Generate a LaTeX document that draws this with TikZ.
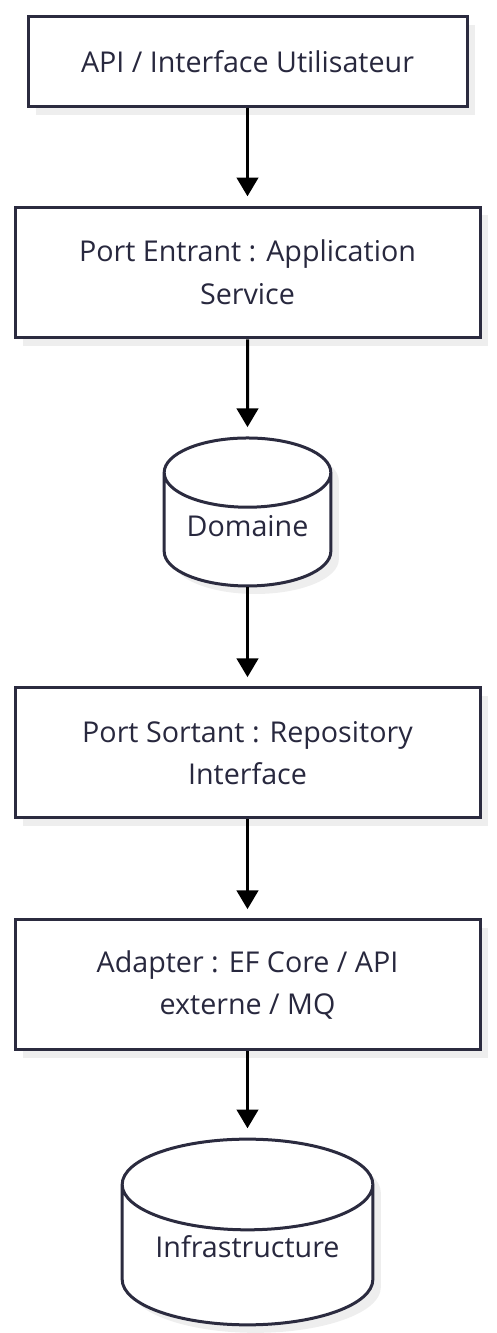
\documentclass[tikz,border=0pt]{standalone}
\usepackage{fontspec}
\setmainfont{Open Sans}
\usetikzlibrary{shapes.geometric,shadows,arrows.meta}
\definecolor{layerStroke}{RGB}{43,43,63}
\definecolor{layerText}{RGB}{40,40,62}
\definecolor{layerShadow}{RGB}{238,238,238}

\begin{document}
\begin{tikzpicture}[
  x=0.75pt,
  y=0.75pt,
  layer/.style={draw=layerStroke, line width=2.25pt, fill=white,
    drop shadow={shadow xshift=6pt, shadow yshift=-6pt, fill=layerShadow, opacity=1},
    font=\fontsize{21.5}{32}\selectfont, text=layerText, align=center},
  box/.style={layer, rectangle, minimum width=#1*0.75pt},
  store/.style={layer, cylinder, shape border rotate=90, anchor=shape center},
  flow/.style={line width=2.25pt, -{Triangle[width=16pt, length=14pt]}, shorten >=7pt}
]
  \useasboundingbox (0,0) rectangle (496,1333);

  \node[box=439, minimum height=67.5pt] (api) at (247.5,1271) {API / Interface Utilisateur};
  \node[box=465, minimum height=98pt] (entrant) at (247.5,1060.5) {Port Entrant : Application\\Service};
  \node[store, aspect=0.53, minimum width=125pt, minimum height=111pt, text depth=15pt] (domaine) at (247.5,821) {Domaine};
  \node[box=465, minimum height=97.5pt] (sortant) at (247.5,580) {Port Sortant : Repository\\Interface};
  \node[box=465, minimum height=97.5pt] (adapter) at (247.5,348) {Adapter : EF Core / API\\externe / MQ};
  \node[store, aspect=0.47, minimum width=188pt, minimum height=124pt, text depth=22pt] (infra) at (247.5,101) {Infrastructure};

  \foreach \a/\b in {api/entrant,entrant/domaine,domaine/sortant,sortant/adapter,adapter/infra}
    \draw[flow] (\a) -- (\b);
\end{tikzpicture}
\end{document}
